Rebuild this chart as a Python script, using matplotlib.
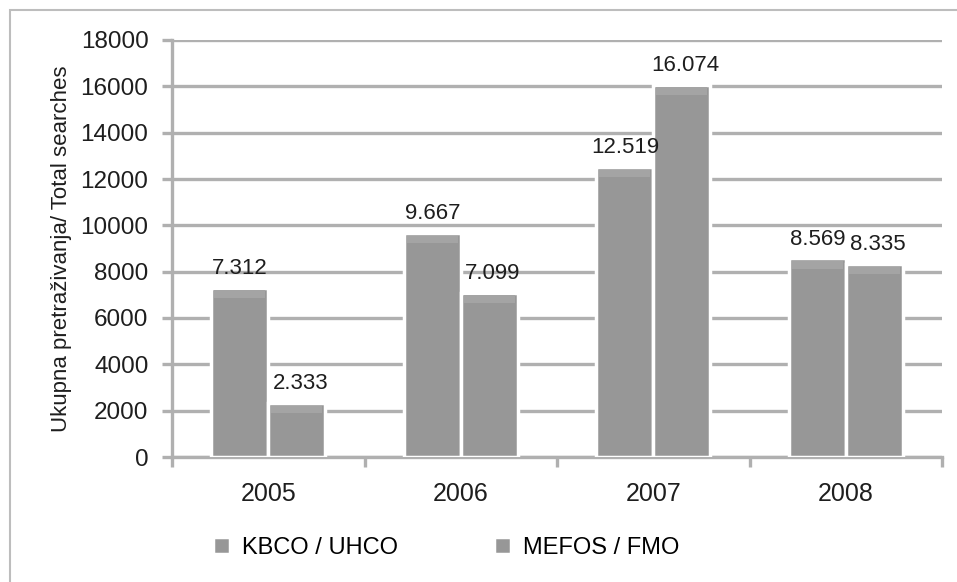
import numpy as np
import matplotlib.pyplot as plt
from matplotlib.patches import Rectangle

years = ['2005', '2006', '2007', '2008']
kbco = [7312, 9667, 12519, 8569]
mefos = [2333, 7099, 16074, 8335]
kbco_labels = ['7.312', '9.667', '12.519', '8.569']
mefos_labels = ['2.333', '7.099', '16.074', '8.335']
series_names = ['KBCO / UHCO', 'MEFOS / FMO']

plt.rcParams['font.family'] = ['Liberation Sans', 'DejaVu Sans']

fig = plt.figure(figsize=(9.57, 5.82), dpi=100)
ax = fig.add_axes([172 / 957, 1 - 457 / 582, (942 - 172) / 957, (457 - 40) / 582])

# light frame around the whole chart
fig.patches.append(Rectangle((10 / 957, -0.05), 1.1, 1 - 10 / 582 + 0.05,
                             transform=fig.transFigure, fill=False,
                             edgecolor='#bdbdbd', linewidth=1.5))

x = np.arange(len(years))
w = 0.295
grid_c = '#b0b0b0'
bar_c = '#979797'
txt_c = '#1e1e1e'

ax.set_ylim(0, 18000)
ax.set_xlim(-0.5, 3.5)
ax.set_yticks(range(0, 18001, 2000))
ax.yaxis.grid(True, color=grid_c, linewidth=2.4)
ax.set_axisbelow(True)

b1 = ax.bar(x - w / 2, kbco, w, color=bar_c, edgecolor='white',
            linewidth=2.5, label=series_names[0], zorder=3)
b2 = ax.bar(x + w / 2, mefos, w, color=bar_c, edgecolor='white',
            linewidth=2.5, label=series_names[1], zorder=3)

# faint highlight near the top of each bar
for bars in (b1, b2):
    for r in bars:
        h = r.get_height()
        ax.add_patch(Rectangle((r.get_x() + 0.015, h - 450), r.get_width() - 0.03, 330,
                               facecolor='#a4a4a4', edgecolor='none', zorder=4))

for xi, v, s in zip(x, kbco, kbco_labels):
    ax.text(xi - w / 2, v + 380, s, ha='center', va='bottom', fontsize=16, color=txt_c, zorder=5)
for xi, v, s in zip(x, mefos, mefos_labels):
    ax.text(xi + w / 2 + 0.02, v + 380, s, ha='center', va='bottom', fontsize=16, color=txt_c, zorder=5)

for side in ('top', 'right'):
    ax.spines[side].set_visible(False)
for side in ('left', 'bottom'):
    ax.spines[side].set_color(grid_c)
    ax.spines[side].set_linewidth(2.4)

ax.set_xticks(x)
ax.set_xticklabels(years, fontsize=18, color=txt_c)
ax.set_xticks(np.arange(-0.5, 4, 1), minor=True)
ax.tick_params(axis='x', which='major', length=0, pad=18)
ax.tick_params(axis='x', which='minor', length=7, width=2.4, color=grid_c)
ax.tick_params(axis='y', length=7, width=2.4, color=grid_c, labelsize=17.5,
               labelcolor=txt_c, pad=10)

ax.set_ylabel('Ukupna pretraživanja/ Total searches', fontsize=16, color=txt_c, labelpad=6)

fig.legend(handles=[b1, b2], labels=series_names, loc='center left',
           bbox_to_anchor=(192 / 957, 1 - 548 / 582), ncol=2, frameon=False,
           fontsize=17, handlelength=0.7, handleheight=0.7, columnspacing=4.1,
           handletextpad=0.5)

fig.savefig('out.png', dpi=100)
